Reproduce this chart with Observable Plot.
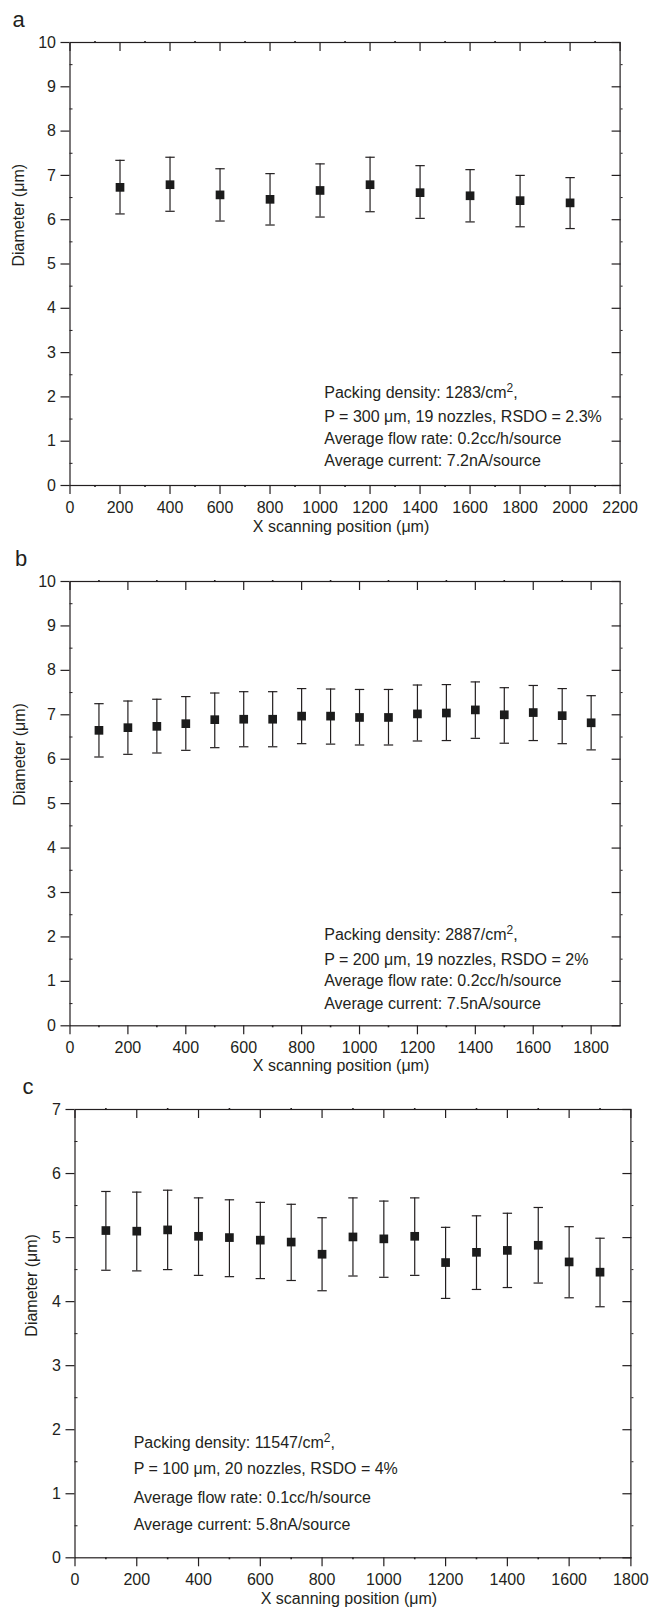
<!DOCTYPE html>
<html><head><meta charset="utf-8">
<script src="https://cdn.jsdelivr.net/npm/d3@7"></script>
<script src="https://cdn.jsdelivr.net/npm/@observablehq/plot@0.6"></script>
<style>
body{margin:0;background:#fff;}
#root{position:relative;width:649px;height:1613px;overflow:hidden;}
.panel{position:absolute;left:0;}
.panel svg{display:block;}
</style></head><body><div id="root"></div>
<script>
// ---------- Panel a ----------
const xA = [200, 400, 600, 800, 1000, 1200, 1400, 1600, 1800, 2000];
const meanA = [6.73, 6.79, 6.56, 6.46, 6.66, 6.79, 6.61, 6.54, 6.43, 6.38];
const lowA  = [6.13, 6.19, 5.97, 5.88, 6.06, 6.18, 6.03, 5.95, 5.84, 5.80];
const highA = [7.34, 7.41, 7.15, 7.04, 7.26, 7.41, 7.22, 7.13, 7.00, 6.95];
const notesA = ["Packing density: 1283/cm²,", "P = 300 μm, 19 nozzles, RSDO = 2.3%", "Average flow rate: 0.2cc/h/source", "Average current: 7.2nA/source"];
const noteYA = [2.08, 1.56, 1.05, 0.55];
const noteXA = 1017;
const xTicksA = [0, 200, 400, 600, 800, 1000, 1200, 1400, 1600, 1800, 2000, 2200];
const yTicksA = [0, 1, 2, 3, 4, 5, 6, 7, 8, 9, 10];

// ---------- Panel b ----------
const xB = [100, 200, 300, 400, 500, 600, 700, 800, 900, 1000, 1100, 1200, 1300, 1400, 1500, 1600, 1700, 1800];
const meanB = [6.65, 6.71, 6.74, 6.80, 6.89, 6.90, 6.90, 6.97, 6.97, 6.94, 6.94, 7.02, 7.04, 7.11, 7.00, 7.05, 6.98, 6.82];
const lowB  = [6.05, 6.11, 6.14, 6.20, 6.26, 6.28, 6.28, 6.35, 6.34, 6.32, 6.32, 6.41, 6.42, 6.47, 6.36, 6.42, 6.35, 6.21];
const highB = [7.25, 7.31, 7.35, 7.41, 7.49, 7.52, 7.52, 7.59, 7.58, 7.57, 7.57, 7.67, 7.68, 7.74, 7.61, 7.66, 7.59, 7.43];
const notesB = ["Packing density: 2887/cm²,", "P = 200 μm, 19 nozzles, RSDO = 2%", "Average flow rate: 0.2cc/h/source", "Average current: 7.5nA/source"];
const noteYB = [2.055, 1.49, 1.0, 0.49];
const noteXB = 878;
const xTicksB = [0, 200, 400, 600, 800, 1000, 1200, 1400, 1600, 1800];
const yTicksB = [0, 1, 2, 3, 4, 5, 6, 7, 8, 9, 10];

// ---------- Panel c ----------
const xC = [100, 200, 300, 400, 500, 600, 700, 800, 900, 1000, 1100, 1200, 1300, 1400, 1500, 1600, 1700];
const meanC = [5.11, 5.10, 5.12, 5.02, 5.00, 4.96, 4.93, 4.74, 5.01, 4.98, 5.02, 4.61, 4.77, 4.80, 4.88, 4.62, 4.46];
const lowC  = [4.49, 4.48, 4.50, 4.41, 4.39, 4.36, 4.33, 4.17, 4.40, 4.38, 4.41, 4.05, 4.19, 4.22, 4.29, 4.06, 3.92];
const highC = [5.72, 5.71, 5.74, 5.62, 5.59, 5.55, 5.52, 5.31, 5.62, 5.57, 5.62, 5.16, 5.34, 5.38, 5.47, 5.17, 4.99];
const notesC = ["Packing density: 11547/cm²,", "P = 100 μm, 20 nozzles, RSDO = 4%", "Average flow rate: 0.1cc/h/source", "Average current: 5.8nA/source"];
const noteYC = [1.79, 1.39, 0.937, 0.52];
const noteXC = 190;
const xTicksC = [0, 200, 400, 600, 800, 1000, 1200, 1400, 1600, 1800];
const yTicksC = [0, 1, 2, 3, 4, 5, 6, 7];

const INK = "#231f20";
const FONT = "'Liberation Sans', Arial, Helvetica, sans-serif";

const capSymbol = {
  draw(context, size) {
    const r = Math.sqrt(size / Math.PI);
    context.moveTo(-r, 0);
    context.lineTo(r, 0);
  }
};

function makePanel(cfg) {
  const data = cfg.x.map((x, i) => ({x, mean: cfg.mean[i], low: cfg.low[i], high: cfg.high[i]}));
  const xMax = cfg.xDomain[1], yMax = cfg.yDomain[1];
  const xMinor = d3.range(100, xMax, 200);
  const yMinor = d3.range(0.5, yMax, 1);
  const notes = cfg.notes.map((t, i) => ({t, y: cfg.noteY[i]}));
  return Plot.plot({
    width: 649,
    height: cfg.height,
    marginTop: cfg.mt, marginBottom: cfg.mb, marginLeft: cfg.ml, marginRight: cfg.mr,
    style: {fontFamily: FONT, fontSize: "16px", color: INK, background: "white", overflow: "visible"},
    x: {domain: cfg.xDomain},
    y: {domain: cfg.yDomain},
    marks: [
      // error bars
      Plot.ruleX(data, {x: "x", y1: "low", y2: "high", stroke: INK, strokeWidth: 1.2}),
      Plot.dot(data, {x: "x", y: "high", symbol: capSymbol, r: 4.7, stroke: INK, strokeWidth: 1.2, fill: "none"}),
      Plot.dot(data, {x: "x", y: "low", symbol: capSymbol, r: 4.7, stroke: INK, strokeWidth: 1.2, fill: "none"}),
      Plot.dot(data, {x: "x", y: "mean", symbol: "square", r: 4.9, fill: "#1b1b1b", stroke: null}),
      // frame
      Plot.frame({stroke: INK, strokeWidth: 1.2}),
      // left axis: labeled, outward ticks
      Plot.axisY({ticks: cfg.yTicks, anchor: "left", tickSize: 9, tickPadding: 5, fontSize: 16, label: null, stroke: INK, strokeWidth: 1.2, tickFormat: d => String(d)}),
      Plot.axisY({ticks: yMinor, anchor: "left", tickSize: 3, dx: 3, tickFormat: () => "", label: null, stroke: INK}),
      // right axis: inward ticks
      Plot.axisY({ticks: cfg.yTicks, anchor: "right", tickSize: 9, dx: -9, tickFormat: () => "", label: null, stroke: INK, strokeWidth: 1.2}),
      Plot.axisY({ticks: yMinor, anchor: "right", tickSize: 2, tickFormat: () => "", label: null, stroke: INK}),
      // bottom axis: labeled, outward ticks
      Plot.axisX({ticks: cfg.xTicks, anchor: "bottom", tickSize: 9, tickPadding: 7, fontSize: 16, label: null, stroke: INK, strokeWidth: 1.2, tickFormat: d => String(d)}),
      Plot.axisX({ticks: xMinor, anchor: "bottom", tickSize: 2, tickFormat: () => "", label: null, stroke: INK, strokeWidth: 1.6}),
      // top axis: inward ticks
      Plot.axisX({ticks: cfg.xTicks, anchor: "top", tickSize: 8, dy: 8, tickFormat: () => "", label: null, stroke: INK, strokeWidth: 1.2}),
      Plot.axisX({ticks: xMinor, anchor: "top", tickSize: 2, tickFormat: () => "", label: null, stroke: INK, strokeWidth: 1.6}),
      // annotations
      Plot.text(notes, {x: () => cfg.noteX, y: "y", text: "t", textAnchor: "start", fontSize: 16, fill: INK}),
      // axis titles
      Plot.text(["Diameter (μm)"], {frameAnchor: "left", text: d => d, rotate: -90, dx: cfg.yTitleDx, dy: cfg.yTitleDy, fontSize: 16, fill: INK}),
      Plot.text(["X scanning position (μm)"], {frameAnchor: "bottom", text: d => d, dx: -4, dy: cfg.xTitleDy, fontSize: 16, fill: INK}),
      // panel letter
      Plot.text([cfg.letter], {frameAnchor: "top-left", text: d => d, textAnchor: "start", lineAnchor: "bottom", dx: cfg.letterDx, dy: cfg.letterDy, fontSize: 22, fill: INK})
    ]
  });
}

// render "cm²" with a true raised superscript digit
function superscriptFix(svg) {
  const NS = "http://www.w3.org/2000/svg";
  svg.querySelectorAll("text").forEach(t => {
    if (t.children.length === 0 && t.textContent.includes("²")) {
      const [before, after] = t.textContent.split("²");
      t.textContent = before;
      const sup = document.createElementNS(NS, "tspan");
      sup.setAttribute("dy", "-6");
      sup.setAttribute("font-size", "12");
      sup.textContent = "2";
      const rest = document.createElementNS(NS, "tspan");
      rest.setAttribute("dy", "6");
      rest.textContent = after;
      t.appendChild(sup);
      t.appendChild(rest);
    }
  });
}

const panels = [
  {top: 0, height: 540, mt: 42, mb: 55, ml: 69.5, mr: 29.4,
   x: xA, mean: meanA, low: lowA, high: highA, xDomain: [0, 2200], yDomain: [0, 10],
   xTicks: xTicksA, yTicks: yTicksA, notes: notesA, noteY: noteYA, noteX: noteXA,
   yTitleDx: -51, yTitleDy: 2.5, xTitleDy: 46, letter: "a", letterDx: -57.5, letterDy: -16},
  {top: 540, height: 540, mt: 41, mb: 54.7, ml: 69.5, mr: 29.4,
   x: xB, mean: meanB, low: lowB, high: highB, xDomain: [0, 1900], yDomain: [0, 10],
   xTicks: xTicksB, yTicks: yTicksB, notes: notesB, noteY: noteYB, noteX: noteXB,
   yTitleDx: -50, yTitleDy: 2, xTitleDy: 45, letter: "b", letterDx: -55, letterDy: -16},
  {top: 1080, height: 533, mt: 29, mb: 55.7, ml: 74.5, mr: 18.6,
   x: xC, mean: meanC, low: lowC, high: highC, xDomain: [0, 1800], yDomain: [0, 7],
   xTicks: xTicksC, yTicks: yTicksC, notes: notesC, noteY: noteYC, noteX: noteXC,
   yTitleDx: -43.5, yTitleDy: 3, xTitleDy: 46, letter: "c", letterDx: -52.5, letterDy: -16}
];

const root = document.getElementById("root");
for (const p of panels) {
  const div = document.createElement("div");
  div.className = "panel";
  div.style.top = p.top + "px";
  const svg = makePanel(p);
  superscriptFix(svg);
  div.appendChild(svg);
  root.appendChild(div);
}
</script>
</body></html>
